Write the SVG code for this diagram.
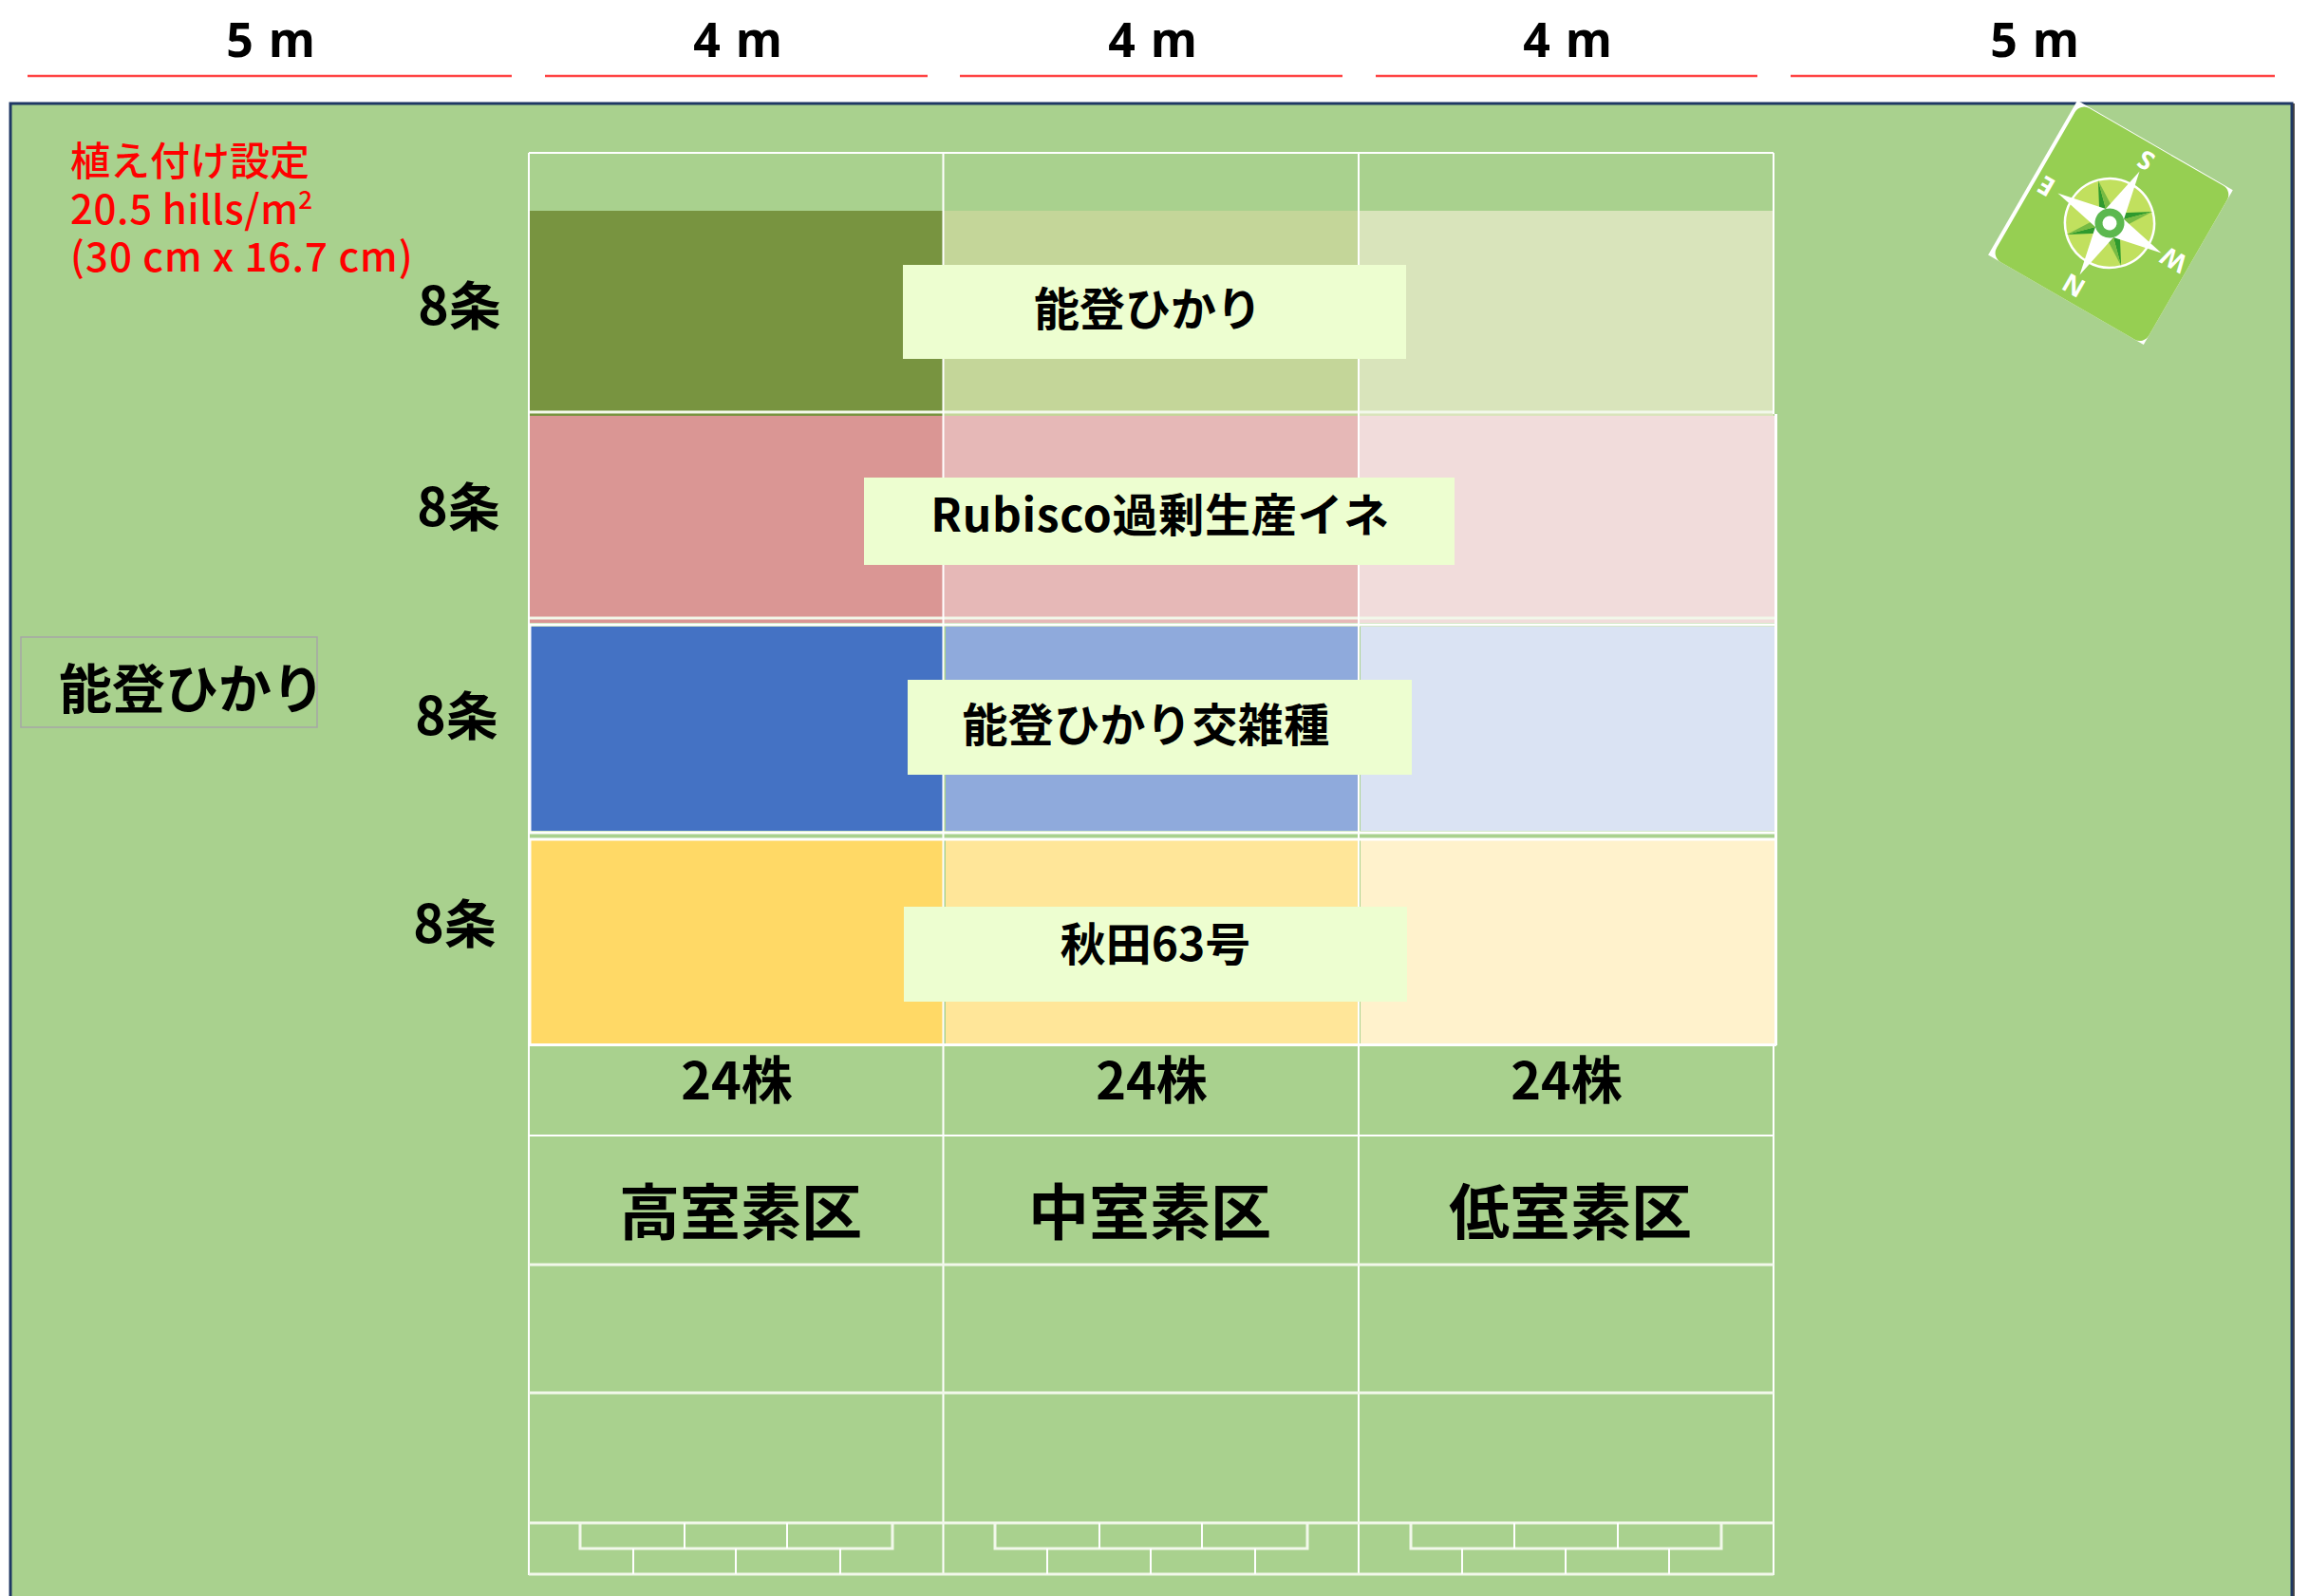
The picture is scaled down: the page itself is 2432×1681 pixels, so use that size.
<svg xmlns="http://www.w3.org/2000/svg" width="2432" height="1681" viewBox="0 0 2432 1681">
<style>
text{font-family:"Noto Sans CJK JP","Noto Sans",sans-serif;fill:#000;text-anchor:middle;font-weight:700}
.dim{font-size:50px;font-family:"Noto Sans","Noto Sans CJK JP",sans-serif;font-weight:700;word-spacing:3px}
.red{fill:#f00;text-anchor:start;font-size:42px;font-weight:500}
.tj{font-size:55px}
.lab{font-size:48px}
.kabu{font-size:54px}
.zone{font-size:64px}
.card{fill:#edfed0}
.dl{stroke:#f44;stroke-width:2.500;fill:none}
.gl{stroke:#fff;stroke-width:2;fill:none}
.gh{stroke:#f2f8ea;stroke-width:3;fill:none}
.fr{stroke:#fff;stroke-width:3;fill:none}
.cl{fill:#fff;font-family:"Noto Sans",sans-serif;font-weight:700;font-size:27px}
</style>
<rect width="2432" height="1681" fill="#fff"/>
<g id="field"><rect x="11" y="109" width="2403" height="1580" fill="#a9d18e" stroke="#1f3864" stroke-width="3"/><line x1="2416" y1="109" x2="2416" y2="1681" stroke="#222" stroke-width="1.5"/></g>
<g id="dimensions">
<line class="dl" x1="29" y1="80" x2="539" y2="80"/><line class="dl" x1="574" y1="80" x2="977" y2="80"/><line class="dl" x1="1011" y1="80" x2="1414" y2="80"/><line class="dl" x1="1449" y1="80" x2="1851" y2="80"/><line class="dl" x1="1886" y1="80" x2="2396" y2="80"/>
<text class="dim" x="285" y="60">5 m</text><text class="dim" x="777" y="60">4 m</text><text class="dim" x="1214" y="60">4 m</text><text class="dim" x="1651" y="60">4 m</text><text class="dim" x="2143" y="60">5 m</text>
</g>
<g id="plots">
<rect x="558" y="222" width="436" height="216" fill="#789440"/><rect x="994" y="222" width="437" height="216" fill="#c4d699"/><rect x="1431" y="222" width="437" height="216" fill="#d9e4bb"/>
<rect x="558" y="438" width="436" height="218" fill="#da9694"/><rect x="994" y="438" width="437" height="218" fill="#e6b8b7"/><rect x="1431" y="438" width="438" height="218" fill="#f1dcdb"/>
<rect x="559" y="660" width="435" height="215" fill="#4472c4"/><rect x="996" y="660" width="434" height="215" fill="#8faadc"/><rect x="1433" y="660" width="436" height="215" fill="#dae3f3"/>
<rect x="559" y="885" width="435" height="214" fill="#ffd966"/><rect x="996" y="885" width="434" height="214" fill="#ffe699"/><rect x="1433" y="885" width="436" height="214" fill="#fff2cc"/>
<path class="gh" d="M557 434H1869M557 651H1871"/>
<path class="fr" d="M558 658H1871M558 658V877M558 877H1871M1870.500 436V1101M558 884H1871M558 884V1100M558 1100.500H1871"/>
</g>
<g id="grid">
<path class="gl" d="M557 161V1659M993.500 161V1659M1431 161V1659M1868 161V436M1868 1100V1659M557 161H1868M557 1196H1868"/>
<path class="gh" d="M557 1332H1868M557 1467H1868M557 1604H1868M557 1658H1868M611 1604V1631H940V1604M1048 1604V1631H1377V1604M1486 1604V1631H1813V1604"/>
<path class="gl" d="M721 1604V1631M829 1604V1631M667 1631V1658M775 1631V1658M885 1631V1658M1158 1604V1631M1266 1604V1631M1103 1631V1658M1212 1631V1658M1322 1631V1658M1595 1604V1631M1704 1604V1631M1540 1631V1658M1649 1631V1658M1758 1631V1658"/>
</g>
<g id="planting-note"><text class="red"><tspan x="74" y="185">植え付け設定</tspan><tspan x="74" y="236" letter-spacing="0.600">20.5 hills/m</tspan><tspan font-size="26" dy="-16">2</tspan><tspan x="74" y="286" letter-spacing="1">(30 cm x 16.7 cm)</tspan></text></g>
<g id="left-label"><rect x="22" y="671" width="312" height="95" fill="none" stroke="#a6a6a6" stroke-width="1.500"/><text x="202" y="746" font-size="56">能登ひかり</text></g>
<g id="rows"><text class="tj" x="484" y="342">8条</text><text class="tj" x="483" y="554">8条</text><text class="tj" x="481" y="774">8条</text><text class="tj" x="479" y="993">8条</text></g>
<g id="n1"><rect class="card" x="951" y="279" width="530" height="99"/><text class="lab" x="1209" y="343">能登ひかり</text></g>
<g id="n2"><rect class="card" x="910" y="503" width="622" height="92"/><text class="lab" x="1222" y="560" letter-spacing="0.700">Rubisco過剰生産イネ</text></g>
<g id="n3"><rect class="card" x="956" y="716" width="531" height="100"/><text class="lab" x="1207" y="781" letter-spacing="0.400">能登ひかり交雑種</text></g>
<g id="n4"><rect class="card" x="952" y="955" width="530" height="100"/><text class="lab" x="1217" y="1012">秋田63号</text></g>
<g id="counts"><text class="kabu" x="776" y="1158">24株</text><text class="kabu" x="1213" y="1158">24株</text><text class="kabu" x="1650" y="1158">24株</text></g>
<g id="zones"><text class="zone" x="780" y="1300">高室素区</text><text class="zone" x="1211" y="1300">中室素区</text><text class="zone" x="1654" y="1300">低室素区</text></g>
<g id="compass" transform="translate(2222 235) rotate(210)">
<rect x="-95" y="-93" width="189" height="188" fill="#fff"/>
<rect x="-95" y="-93" width="185" height="187" rx="11" fill="#96cf52"/>
<circle r="47" fill="#c1e05e" stroke="#fff" stroke-width="2.500"/>
<path fill="#2f9a2e" d="M0 0L33 -33L6 -16ZM0 0L33 33L16 6ZM0 0L-33 33L-6 16ZM0 0L-33 -33L-16 -6Z"/>
<path fill="#77bb44" d="M0 0L33 -33L16 -6ZM0 0L33 33L6 16ZM0 0L-33 33L-16 6ZM0 0L-33 -33L-6 -16Z"/>
<path fill="#fff" d="M0 -63L11 -11L63 0L11 11L0 63L-11 11L-63 0L-11 -11Z"/>
<circle r="11.500" fill="#fff" stroke="#5cb84f" stroke-width="8"/>
<text class="cl" x="0" y="-66">N</text><text class="cl" x="0" y="86">S</text><text class="cl" x="77" y="10">E</text><text class="cl" x="-78" y="10">W</text>
</g>
</svg>
